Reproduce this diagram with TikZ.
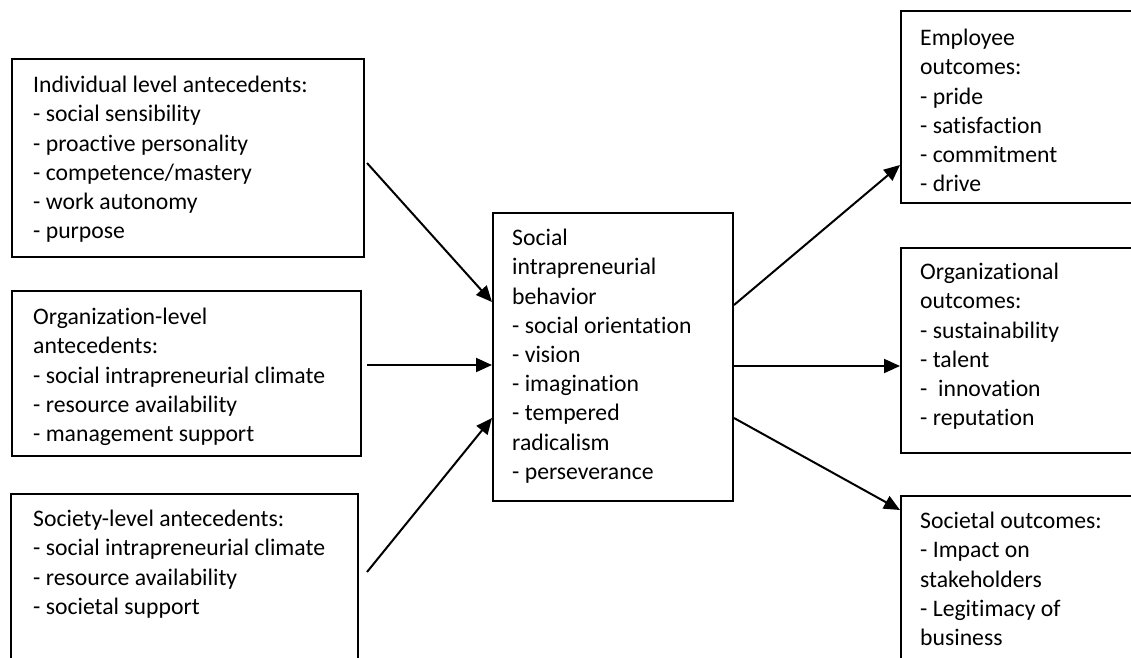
\documentclass[tikz,border=0pt]{standalone}
\usepackage{fontspec}
\setmainfont{Carlito}[Ligatures={NoCommon}]
\usetikzlibrary{arrows.meta}
\tikzset{
  box/.style={draw, line width=2pt, anchor=north west, inner sep=0pt},
  boxtext/.style={anchor=north west, align=left, inner sep=0pt, font=\fontsize{23.7}{29.2}\selectfont},
  arr/.style={line width=2pt, -{Triangle[length=16pt,width=14pt]}}
}
\begin{document}
\begin{tikzpicture}[x=1pt,y=-1pt]
\useasboundingbox (0,0) rectangle (1131,657);
\clip (0,0) rectangle (1131,657);
\node[box, minimum width=352pt, minimum height=198pt] (indiv) at (11,58) {};
\node[box, minimum width=349pt, minimum height=165pt] (organt) at (11,290) {};
\node[box, minimum width=347pt, minimum height=210pt] (socant) at (10,493) {};
\node[box, minimum width=240pt, minimum height=288pt] (sib) at (492,212) {};
\node[box, minimum width=240pt, minimum height=192pt] (empl) at (900,10) {};
\node[box, minimum width=240pt, minimum height=205pt] (orgout) at (900,247) {};
\node[box, minimum width=240pt, minimum height=210pt] (socout) at (900,495) {};
\node[boxtext] (indiv-txt) at ([shift={(22,18)}]indiv.north west) {Individual level antecedents:\\- social sensibility\\- proactive personality\\- competence/mastery\\- work autonomy\\- purpose};
\node[boxtext] (organt-txt) at ([shift={(22,18)}]organt.north west) {Organization-level\\antecedents:\\- social intrapreneurial climate\\- resource availability\\- management support};
\node[boxtext] (socant-txt) at ([shift={(23,17)}]socant.north west) {Society-level antecedents:\\- social intrapreneurial climate\\- resource availability\\- societal support};
\node[boxtext] (sib-txt) at ([shift={(20,17)}]sib.north west) {Social\\intrapreneurial\\behavior\\- social orientation\\- vision\\- imagination\\- tempered\\radicalism\\- perseverance};
\node[boxtext] (empl-txt) at ([shift={(20,19)}]empl.north west) {Employee\\outcomes:\\- pride\\- satisfaction\\- commitment\\- drive};
\node[boxtext] (orgout-txt) at ([shift={(20,16)}]orgout.north west) {Organizational\\outcomes:\\- sustainability\\- talent\\-~ innovation\\- reputation};
\node[boxtext] (socout-txt) at ([shift={(20,17)}]socout.north west) {Societal outcomes:\\- Impact on\\stakeholders\\- Legitimacy of\\business};
\draw[arr] ([shift={(2,105)}]indiv.north east) -- ([shift={(0,90)}]sib.north west);
\draw[arr] ([shift={(5,75)}]organt.north east) -- ([shift={(0,153)}]sib.north west);
\draw[arr] ([shift={(8,79)}]socant.north east) -- ([shift={(0,206)}]sib.north west);
\draw[arr] ([shift={(0,93)}]sib.north east) -- ([shift={(0,-39)}]empl.south west);
\draw[arr] ([shift={(0,154)}]sib.north east) -- ([shift={(0,119)}]orgout.north west);
\draw[arr] ([shift={(0,206)}]sib.north east) -- ([shift={(0,15)}]socout.north west);
\end{tikzpicture}
\end{document}
